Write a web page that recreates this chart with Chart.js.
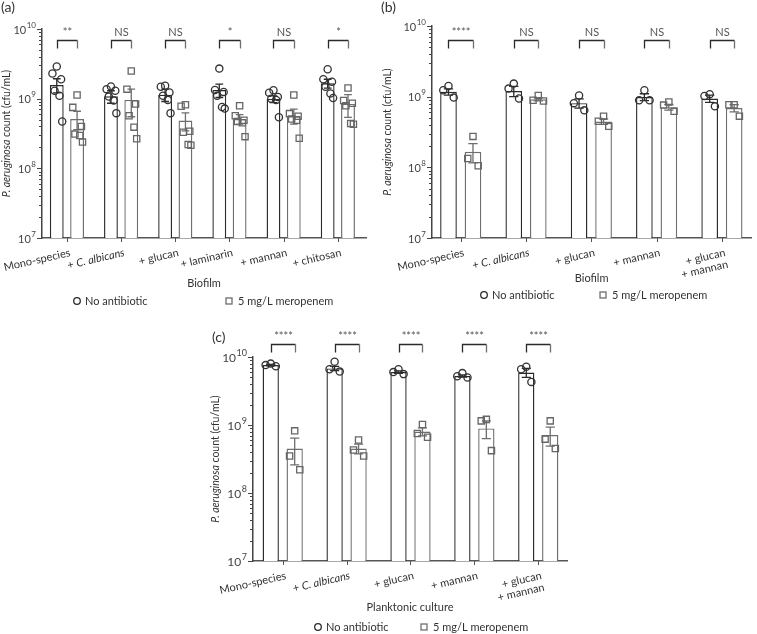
<!DOCTYPE html>
<html>
<head>
<meta charset="utf-8">
<script src="https://cdn.jsdelivr.net/npm/chart.js@4.4.1/dist/chart.umd.min.js"></script>
<style>
    body { margin: 0; background: #fff; width: 757px; height: 634px; position: relative; overflow: hidden; }
    canvas { position: absolute; }
</style>
</head>
<body>
<canvas id="chartA" width="378" height="330" style="left:0;top:0"></canvas>
<canvas id="chartB" width="379" height="330" style="left:378px;top:0"></canvas>
<canvas id="chartC" width="470" height="314" style="left:150px;top:320px"></canvas>
<script>
// ---- data ----
const yTicks = [1e7, 1e8, 1e9, 1e10];
const seriesLabels = ['No antibiotic', '5 mg/L meropenem'];

// (a) biofilm
const groupsA = ['Mono-species', '+ C. albicans', '+ glucan', '+ laminarin', '+ mannan', '+ chitosan'];
const sigA = ['**', 'NS', 'NS', '*', 'NS', '*'];
const ctrlMeanA = [1.57e9, 1.08e9, 1.14e9, 1.33e9, 0.99e9, 1.66e9];
const ctrlSemA = [0.36e9, 0.22e9, 0.23e9, 0.29e9, 0.11e9, 0.24e9];
const meroMeanA = [5.1e8, 9.6e8, 4.85e8, 5.1e8, 5.7e8, 8.4e8];
const meroSemA = [1.5e8, 4.1e8, 1.4e8, 0.8e8, 1.4e8, 3.0e8];
const ctrlPtsA = [
    [2.9e9, 2.3e9, 1.9e9, 1.3e9, 1.1e9, 4.7e8],
    [1.5e9, 1.37e9, 1.3e9, 1.07e9, 9.4e8, 6.2e8],
    [1.53e9, 1.48e9, 1.23e9, 1.1e9, 9.6e8, 6.2e8],
    [2.7e9, 1.33e9, 1.25e9, 1.1e9, 7.6e8, 7.2e8],
    [1.32e9, 1.22e9, 1.06e9, 1.0e9, 9.6e8, 5.4e8],
    [2.65e9, 1.9e9, 1.75e9, 1.48e9, 1.19e9, 1.02e9]
];
const meroPtsA = [
    [1.13e9, 7.5e8, 4.0e8, 3.1e8, 2.96e8, 2.38e8],
    [2.5e9, 1.37e9, 8.4e8, 5.7e8, 3.9e8, 2.66e8],
    [8.2e8, 7.8e8, 3.4e8, 3.3e8, 2.2e8, 2.15e8],
    [7.9e8, 5.7e8, 4.9e8, 4.7e8, 4.5e8, 2.85e8],
    [1.13e9, 6.1e8, 5.6e8, 5.1e8, 4.9e8, 2.7e8],
    [1.42e9, 9.4e8, 8.6e8, 7.9e8, 4.4e8, 4.3e8]
];

// (b) biofilm
const groupsB = ['Mono-species', '+ C. albicans', '+ glucan', '+ mannan', '+ glucan\n+ mannan'];
const sigB = ['****', 'NS', 'NS', 'NS', 'NS'];
const ctrlMeanB = [1.17e9, 1.2e9, 8.1e8, 9.9e8, 9.4e8];
const ctrlSemB = [1.2e8, 2.0e8, 1.2e8, 1.1e8, 1.1e8];
const meroMeanB = [1.66e8, 9.2e8, 4.45e8, 7.1e8, 6.9e8];
const meroSemB = [0.5e8, 0.5e8, 0.4e8, 0.65e8, 0.8e8];
const ctrlPtsB = [
    [1.42e9, 1.23e9, 9.7e8],
    [1.53e9, 1.3e9, 9.4e8],
    [1.04e9, 8.1e8, 6.4e8],
    [1.23e9, 8.9e8, 8.9e8],
    [1.08e9, 1.02e9, 7.3e8]
];
const meroPtsB = [
    [2.74e8, 1.33e8, 1.05e8],
    [1.04e9, 8.9e8, 8.7e8],
    [5.3e8, 4.5e8, 3.8e8],
    [8.4e8, 7.6e8, 6.2e8],
    [7.7e8, 7.7e8, 5.3e8]
];

// (c) planktonic culture
const groupsC = ['Mono-species', '+ C. albicans', '+ glucan', '+ mannan', '+ glucan\n+ mannan'];
const sigC = ['****', '****', '****', '****', '****'];
const ctrlMeanC = [7.6e9, 6.8e9, 6.0e9, 5.25e9, 5.9e9];
const ctrlSemC = [0.2e9, 0.5e9, 0.25e9, 0.2e9, 0.9e9];
const meroMeanC = [4.5e8, 4.5e8, 8.0e8, 8.9e8, 7.1e8];
const meroSemC = [1.9e8, 0.75e8, 1.1e8, 2.6e8, 2.2e8];
const ctrlPtsC = [
    [8.0e9, 7.6e9, 7.3e9],
    [8.5e9, 6.6e9, 6.1e9],
    [6.6e9, 6.0e9, 5.6e9],
    [5.8e9, 5.2e9, 5.0e9],
    [7.2e9, 6.6e9, 4.3e9]
];
const meroPtsC = [
    [8.2e8, 3.5e8, 2.2e8],
    [6.0e8, 4.3e8, 3.5e8],
    [1.02e9, 7.5e8, 6.6e8],
    [1.21e9, 1.15e9, 4.2e8],
    [1.15e9, 6.2e8, 4.5e8]
];

// ---- styling ----
const FF = 'Lato, "Noto Sans", sans-serif';
const CTRL = '#2a2a2a';
const MERO = '#6e6e6e';
const TEXT = '#333';
const ITALIC_TERMS = ['C. albicans', 'P. aeruginosa'];
const JITTER = [0, -0.08, 0.08, -0.04, 0.05, 0.1];
const CAT_PCT = 0.75;
const BAR_PCT = 0.68;
const SIDE = CAT_PCT / 4; // bar centre offset from group centre

// draws a string, setting the species names in italics
function drawRich(ctx, text, x, y, align, size) {
    const parts = text.split(/(C\. albicans|P\. aeruginosa)/).filter(s => s);
    const fontFor = p => (ITALIC_TERMS.includes(p) ? 'italic ' : '') + size + 'px ' + FF;
    let total = 0;
    parts.forEach(p => { ctx.font = fontFor(p); total += ctx.measureText(p).width; });
    let cx = align === 'right' ? x - total : align === 'center' ? x - total / 2 : x;
    ctx.textAlign = 'left';
    parts.forEach(p => {
        ctx.font = fontFor(p);
        ctx.fillText(p, cx, y);
        cx += ctx.measureText(p).width;
    });
}

function decorPlugin(d, lay) {
    return {
        id: 'decor',
        afterDatasetDraw(chart, args) {
            if (args.index > 1) return; // error bars for the two bar datasets
            const ctx = chart.ctx, y = chart.scales.y;
            const mean = args.index === 0 ? d.ctrlMean : d.meroMean;
            const sem = args.index === 0 ? d.ctrlSem : d.meroSem;
            ctx.save();
            ctx.strokeStyle = args.index === 0 ? CTRL : MERO;
            ctx.lineWidth = 1.3;
            args.meta.data.forEach((bar, i) => {
                const top = y.getPixelForValue(mean[i] + sem[i]);
                const bot = y.getPixelForValue(mean[i] - sem[i]);
                const cap = bar.width * 0.28;
                ctx.beginPath();
                ctx.moveTo(bar.x, top); ctx.lineTo(bar.x, bot);
                ctx.moveTo(bar.x - cap, top); ctx.lineTo(bar.x + cap, top);
                ctx.moveTo(bar.x - cap, bot); ctx.lineTo(bar.x + cap, bot);
                ctx.stroke();
            });
            ctx.restore();
        },
        afterDraw(chart) {
            const ctx = chart.ctx, area = chart.chartArea;
            const x = chart.scales.x, y = chart.scales.y;
            ctx.save();

            // y axis ticks (major + minor) and labels
            ctx.strokeStyle = '#444';
            ctx.lineWidth = 1;
            ctx.beginPath();
            yTicks.forEach((v, n) => {
                const py = Math.round(y.getPixelForValue(v)) + 0.5;
                ctx.moveTo(area.left - 5, py); ctx.lineTo(area.left, py);
                if (n < yTicks.length - 1) {
                    for (let k = 2; k <= 9; k++) {
                        const my = Math.round(y.getPixelForValue(v * k)) + 0.5;
                        ctx.moveTo(area.left - 3, my); ctx.lineTo(area.left, my);
                    }
                }
            });
            ctx.stroke();
            ctx.fillStyle = '#444';
            ctx.textAlign = 'right';
            ctx.textBaseline = 'middle';
            yTicks.forEach(v => {
                const py = y.getPixelForValue(v);
                const ex = String(Math.round(Math.log10(v)));
                const rx = area.left - 6;
                ctx.font = (lay.tickSize - 3) + 'px ' + FF;
                ctx.fillText(ex, rx, py - 4);
                const ew = ctx.measureText(ex).width;
                ctx.font = lay.tickSize + 'px ' + FF;
                ctx.fillText('10', rx - ew - 0.5, py + 1);
            });

            // x axis ticks and rotated category labels
            ctx.strokeStyle = '#555';
            ctx.beginPath();
            d.groups.forEach((g, i) => {
                const px = Math.round(x.getPixelForValue(i)) + 0.5;
                ctx.moveTo(px, area.bottom); ctx.lineTo(px, area.bottom + 4);
            });
            ctx.stroke();
            ctx.fillStyle = TEXT;
            ctx.textBaseline = 'top';
            d.groups.forEach((g, i) => {
                const px = x.getPixelForValue(i);
                ctx.save();
                ctx.translate(px + 2, area.bottom + 9);
                ctx.rotate(-13 * Math.PI / 180);
                g.split('\n').forEach((line, k) => drawRich(ctx, line, 0, k * 12, 'right', 11));
                ctx.restore();
            });

            // axis titles
            ctx.textBaseline = 'middle';
            drawRich(ctx, d.xTitle, (area.left + area.right) / 2, lay.xTitleY, 'center', 11);
            ctx.save();
            ctx.translate(lay.yTitleX, (area.top + area.bottom) / 2);
            ctx.rotate(-Math.PI / 2);
            drawRich(ctx, 'P. aeruginosa count (cfu/mL)', 0, 0, 'center', 10.5);
            ctx.restore();

            // legend
            ctx.lineWidth = 1.3;
            ctx.strokeStyle = CTRL;
            ctx.beginPath();
            ctx.arc(lay.legX[0], lay.legY, 3.3, 0, Math.PI * 2);
            ctx.stroke();
            ctx.strokeStyle = MERO;
            ctx.strokeRect(lay.legX[1] - 3, lay.legY - 3, 6, 6);
            ctx.font = '11px ' + FF;
            ctx.fillStyle = TEXT;
            ctx.textAlign = 'left';
            ctx.fillText(seriesLabels[0], lay.legX[0] + 8, lay.legY);
            ctx.fillText(seriesLabels[1], lay.legX[1] + 9, lay.legY);

            // significance brackets
            const m0 = chart.getDatasetMeta(0), m1 = chart.getDatasetMeta(1);
            const by = Math.round(area.top + lay.bracketTop) + 0.5;
            d.sig.forEach((s, i) => {
                const xl = Math.round(m0.data[i].x) + 0.5, xr = Math.round(m1.data[i].x) + 0.5;
                ctx.lineWidth = 1.3;
                ctx.strokeStyle = CTRL;
                ctx.beginPath();
                ctx.moveTo(xl, by + 8); ctx.lineTo(xl, by); ctx.lineTo(xr, by);
                ctx.stroke();
                ctx.strokeStyle = MERO;
                ctx.beginPath();
                ctx.moveTo(xr, by); ctx.lineTo(xr, by + 8);
                ctx.stroke();
                ctx.fillStyle = '#555';
                ctx.font = '11px ' + FF;
                ctx.textAlign = 'center';
                ctx.textBaseline = 'alphabetic';
                ctx.fillText(s, (xl + xr) / 2, by - 5);
            });

            // panel letter
            ctx.fillStyle = TEXT;
            ctx.font = '14px ' + FF;
            ctx.textAlign = 'left';
            ctx.fillText(lay.letter, lay.letterX, lay.letterY);
            ctx.restore();
        }
    };
}

function buildPanel(canvasId, d, lay) {
    const points = (pts, side) => pts.flatMap((vals, i) =>
        vals.map((v, k) => ({ x: i + side * SIDE + JITTER[k % JITTER.length], y: v })));
    return new Chart(canvasId, {
        type: 'bar',
        data: {
            datasets: [
                {
                    label: seriesLabels[0],
                    data: d.ctrlMean.map((v, i) => ({ x: i, y: v })),
                    backgroundColor: '#fff',
                    borderColor: CTRL,
                    borderWidth: 1.4,
                    categoryPercentage: CAT_PCT,
                    barPercentage: BAR_PCT,
                    order: 2
                },
                {
                    label: seriesLabels[1],
                    data: d.meroMean.map((v, i) => ({ x: i, y: v })),
                    backgroundColor: '#fff',
                    borderColor: MERO,
                    borderWidth: 1.4,
                    categoryPercentage: CAT_PCT,
                    barPercentage: BAR_PCT,
                    order: 2
                },
                {
                    type: 'scatter',
                    label: seriesLabels[0],
                    data: points(d.ctrlPts, -1),
                    pointStyle: 'circle',
                    pointRadius: 3.6,
                    borderColor: '#333',
                    backgroundColor: 'rgba(255,255,255,0)',
                    borderWidth: 1.3,
                    order: 1
                },
                {
                    type: 'scatter',
                    label: seriesLabels[1],
                    data: points(d.meroPts, 1),
                    pointStyle: 'rect',
                    pointRadius: 4.4,
                    borderColor: '#666',
                    backgroundColor: 'rgba(255,255,255,0)',
                    borderWidth: 1.3,
                    order: 1
                }
            ]
        },
        options: {
            responsive: false,
            animation: false,
            devicePixelRatio: 1,
            events: [],
            layout: { padding: lay.pad },
            plugins: { legend: { display: false }, tooltip: { enabled: false } },
            scales: {
                x: {
                    type: 'linear',
                    min: lay.xmin,
                    max: lay.xmax,
                    offset: false,
                    grid: { display: false, drawTicks: false },
                    border: { display: true, color: '#555', width: 1.5 },
                    ticks: { display: false },
                    afterFit: s => { s.height = 0; }
                },
                y: {
                    type: 'logarithmic',
                    min: yTicks[0],
                    max: yTicks[yTicks.length - 1],
                    grid: { display: false, drawTicks: false },
                    border: { display: true, color: '#444', width: 1.5 },
                    ticks: { display: false },
                    afterFit: s => { s.width = 0; }
                }
            }
        },
        plugins: [decorPlugin(d, lay)]
    });
}

buildPanel('chartA', {
    groups: groupsA, sig: sigA, xTitle: 'Biofilm',
    ctrlMean: ctrlMeanA, ctrlSem: ctrlSemA, meroMean: meroMeanA, meroSem: meroSemA,
    ctrlPts: ctrlPtsA, meroPts: meroPtsA
}, {
    pad: { left: 42, top: 29, right: 12, bottom: 92 },
    xmin: -0.46, xmax: 5.52, tickSize: 11,
    bracketTop: 11, xTitleY: 283, yTitleX: 7,
    legY: 301, legX: [77, 229],
    letter: '(a)', letterX: 1, letterY: 12
});

buildPanel('chartB', {
    groups: groupsB, sig: sigB, xTitle: 'Biofilm',
    ctrlMean: ctrlMeanB, ctrlSem: ctrlSemB, meroMean: meroMeanB, meroSem: meroSemB,
    ctrlPts: ctrlPtsB, meroPts: meroPtsB
}, {
    pad: { left: 54, top: 26, right: 0, bottom: 92 },
    xmin: -0.44, xmax: 4.45, tickSize: 11,
    bracketTop: 14, xTitleY: 278, yTitleX: 10,
    legY: 295, legX: [106, 225],
    letter: '(b)', letterX: 3, letterY: 12
});

buildPanel('chartC', {
    groups: groupsC, sig: sigC, xTitle: 'Planktonic culture',
    ctrlMean: ctrlMeanC, ctrlSem: ctrlSemC, meroMean: meroMeanC, meroSem: meroSemC,
    ctrlPts: ctrlPtsC, meroPts: meroPtsC
}, {
    pad: { left: 103, top: 37, right: 53, bottom: 73 },
    xmin: -0.465, xmax: 4.45, tickSize: 12,
    bracketTop: -13, xTitleY: 287, yTitleX: 66,
    legY: 307, legX: [168, 274],
    letter: '(c)', letterX: 62, letterY: 22
});
</script>
</body>
</html>
